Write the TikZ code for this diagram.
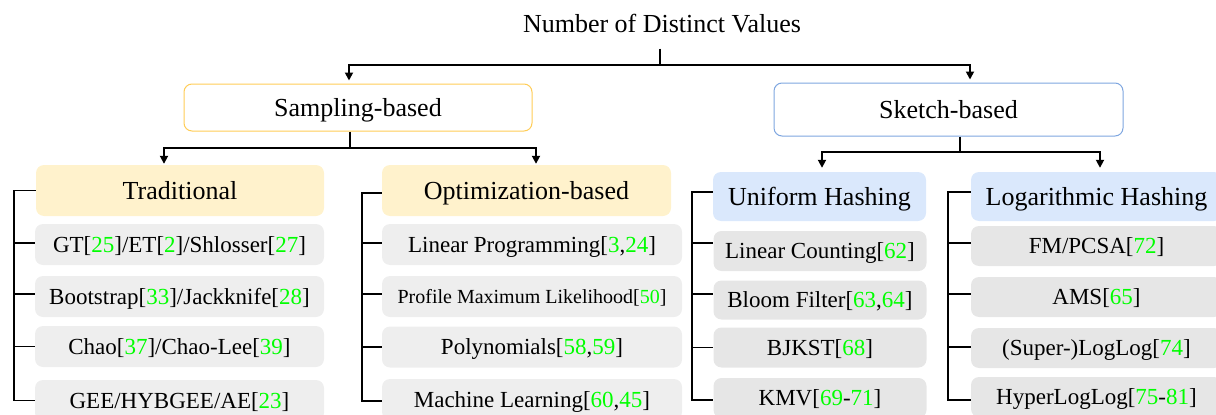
\documentclass[tikz,border=0pt]{standalone}
\usepackage{fontspec}
\setmainfont{Liberation Serif}
\usetikzlibrary{arrows.meta}
\definecolor{sampborder}{HTML}{FFCD57}
\definecolor{sketchborder}{HTML}{7EA6E0}
\definecolor{hdryellow}{HTML}{FFF2CC}
\definecolor{hdrblue}{HTML}{DAE8FC}
\definecolor{leafgrayA}{HTML}{EEEEEE}
\definecolor{leafgrayB}{HTML}{E6E6E6}
\definecolor{citegreen}{RGB}{0,255,0}
\newcommand{\citeg}[1]{\textcolor{citegreen}{#1}}
\begin{document}
\begin{tikzpicture}[x=1pt,y=-1pt,
  conn/.style={line width=1.8pt,draw=black},
  arr/.style={conn,-{Triangle[width=8pt,length=8pt]}},
  bigfont/.style={font=\fontsize{26}{30}\selectfont,text height=23.9pt,text depth=6.8pt},
  leaffont/.style={font=\fontsize{23}{27}\selectfont,text height=21.2pt,text depth=6pt},
  smallfont/.style={font=\fontsize{20}{24}\selectfont,text height=18.4pt,text depth=5.2pt},
  boxbase/.style={rounded corners=8pt,inner sep=0pt,anchor=center},
  topbox/.style={boxbase,bigfont,fill=white,line width=1pt,minimum width=#1},
  hdrbox/.style={boxbase,bigfont,minimum width=#1,minimum height=50pt},
  leafbox/.style={boxbase,leaffont,minimum width=#1,minimum height=41pt}
]
\useasboundingbox (0,0) rectangle (1216,415);

% title
\node[font=\fontsize{26}{30}\selectfont,anchor=base,inner sep=0pt] (title) at (662,32) {Number of Distinct Values};

% level 1
\node[topbox=348pt,minimum height=47pt,draw=sampborder] (samp) at (358,107.5) {Sampling-based};
\node[topbox=349pt,minimum height=53pt,draw=sketchborder] (sket) at (948.5,109.5) {Sketch-based};

% level 2
\node[hdrbox=288pt,fill=hdryellow,minimum height=51pt] (trad) at (180,190.5) {Traditional};
\node[hdrbox=289pt,fill=hdryellow,minimum height=51pt] (opt) at (526.5,190.5) {Optimization-based};
\node[hdrbox=213pt,fill=hdrblue,minimum height=49pt] (unif) at (819.5,196.5) {Uniform Hashing};
\node[hdrbox=251pt,fill=hdrblue,minimum height=49pt] (loga) at (1096.5,196.5) {Logarithmic Hashing};

% leaves: traditional
\node[leafbox=289pt,fill=leafgrayA] (t1) at (179.5,244.5) {GT[\citeg{25}]/ET[\citeg{2}]/Shlosser[\citeg{27}]};
\node[leafbox=289pt,fill=leafgrayA] (t2) at (179.5,296.5) {Bootstrap[\citeg{33}]/Jackknife[\citeg{28}]};
\node[leafbox=289pt,fill=leafgrayA] (t3) at (179.5,346.5) {Chao[\citeg{37}]/Chao-Lee[\citeg{39}]};
\node[leafbox=289pt,fill=leafgrayA] (t4) at (179.5,400.5) {GEE/HYBGEE/AE[\citeg{23}]};

% leaves: optimization
\node[leafbox=300pt,fill=leafgrayA] (o1) at (532,244.5) {Linear Programming[\citeg{3},\citeg{24}]};
\node[leafbox=300pt,fill=leafgrayA,smallfont] (o2) at (532,296.5) {Profile Maximum Likelihood[\citeg{50}]};
\node[leafbox=300pt,fill=leafgrayA] (o3) at (532,347) {Polynomials[\citeg{58},\citeg{59}]};
\node[leafbox=300pt,fill=leafgrayA] (o4) at (532,399.5) {Machine Learning[\citeg{60},\citeg{45}]};

% leaves: uniform hashing
\node[leafbox=213pt,fill=leafgrayB,minimum height=40pt] (u1) at (820,251) {Linear Counting[\citeg{62}]};
\node[leafbox=213pt,fill=leafgrayB,minimum height=39pt] (u2) at (820,300) {Bloom Filter[\citeg{63},\citeg{64}]};
\node[leafbox=213pt,fill=leafgrayB,minimum height=40pt] (u3) at (820,347.5) {BJKST[\citeg{68}]};
\node[leafbox=213pt,fill=leafgrayB,minimum height=40pt] (u4) at (820,398) {KMV[\citeg{69}-\citeg{71}]};

% leaves: logarithmic hashing
\node[leafbox=251pt,fill=leafgrayB,minimum height=40pt] (l1) at (1096.5,246) {FM/PCSA[\citeg{72}]};
\node[leafbox=251pt,fill=leafgrayB,minimum height=40pt] (l2) at (1096.5,297) {AMS[\citeg{65}]};
\node[leafbox=251pt,fill=leafgrayB,minimum height=40pt] (l3) at (1096.5,348) {(Super-)LogLog[\citeg{74}]};
\node[leafbox=251pt,fill=leafgrayB,minimum height=40pt] (l4) at (1096.5,397) {HyperLogLog[\citeg{75}-\citeg{81}]};

% root connectors
\coordinate (j0) at (660,65);
\draw[conn] ([xshift=-2pt,yshift=-16pt]title.south) -- (j0);
\draw[arr,shorten >=3pt] (j0) -| ([xshift=-9pt]samp.north);
\draw[arr,shorten >=3pt] (j0) -| ([xshift=21.5pt]sket.north);

% sampling connectors
\coordinate (j1) at (350,148);
\draw[conn] ([xshift=-8pt]samp.south) -- (j1);
\draw[arr,shorten >=1pt] (j1) -| ([xshift=-16pt]trad.north);
\draw[arr,shorten >=1pt] (j1) -| ([xshift=9.5pt]opt.north);

% sketch connectors
\coordinate (j2) at (960,152);
\draw[conn] ([xshift=11.5pt]sket.south) -- (j2);
\draw[arr,shorten >=4pt] (j2) -| ([xshift=2.5pt]unif.north);
\draw[arr,shorten >=4pt] (j2) -| ([xshift=3.5pt]loga.north);

% brackets: traditional
\coordinate (bt) at (14,0);
\draw[conn] (trad.west) -| (bt |- t4.west) -- (t4.west);
\draw[conn] ([yshift=1.5pt]bt |- t1.west) -- ([yshift=1.5pt]t1.west);
\draw[conn] ([yshift=2.5pt]bt |- t2.west) -- ([yshift=2.5pt]t2.west);
\draw[conn] (bt |- t3.west) -- (t3.west);

% brackets: optimization
\coordinate (bo) at (362,0);
\draw[conn] ([yshift=-2.5pt]opt.west) -| ([yshift=-1.5pt]bo |- o4.west) -- ([yshift=-1.5pt]o4.west);
\draw[conn] ([yshift=1.5pt]bo |- o1.west) -- ([yshift=1.5pt]o1.west);
\draw[conn] ([yshift=2.5pt]bo |- o2.west) -- ([yshift=2.5pt]o2.west);
\draw[conn] (bo |- o3.west) -- (o3.west);

% brackets: uniform hashing
\coordinate (bu) at (692,0);
\draw[conn] ([yshift=4.5pt]unif.west) -| ([yshift=-2pt]bu |- u4.west) -- ([yshift=-2pt]u4.west);
\draw[conn] ([yshift=8pt]bu |- u1.west) -- ([yshift=8pt]u1.west);
\draw[conn] ([yshift=6pt]bu |- u2.west) -- ([yshift=6pt]u2.west);
\draw[conn] (bu |- u3.west) -- (u3.west);

% brackets: logarithmic hashing
\coordinate (bl) at (948,0);
\draw[conn] ([yshift=4.5pt]loga.west) -| ([yshift=-3pt]bl |- l4.west) -- ([yshift=-3pt]l4.west);
\draw[conn] ([yshift=3pt]bl |- l1.west) -- ([yshift=3pt]l1.west);
\draw[conn] ([yshift=3pt]bl |- l2.west) -- ([yshift=3pt]l2.west);
\draw[conn] ([yshift=1pt]bl |- l3.west) -- ([yshift=1pt]l3.west);
\end{tikzpicture}
\end{document}
